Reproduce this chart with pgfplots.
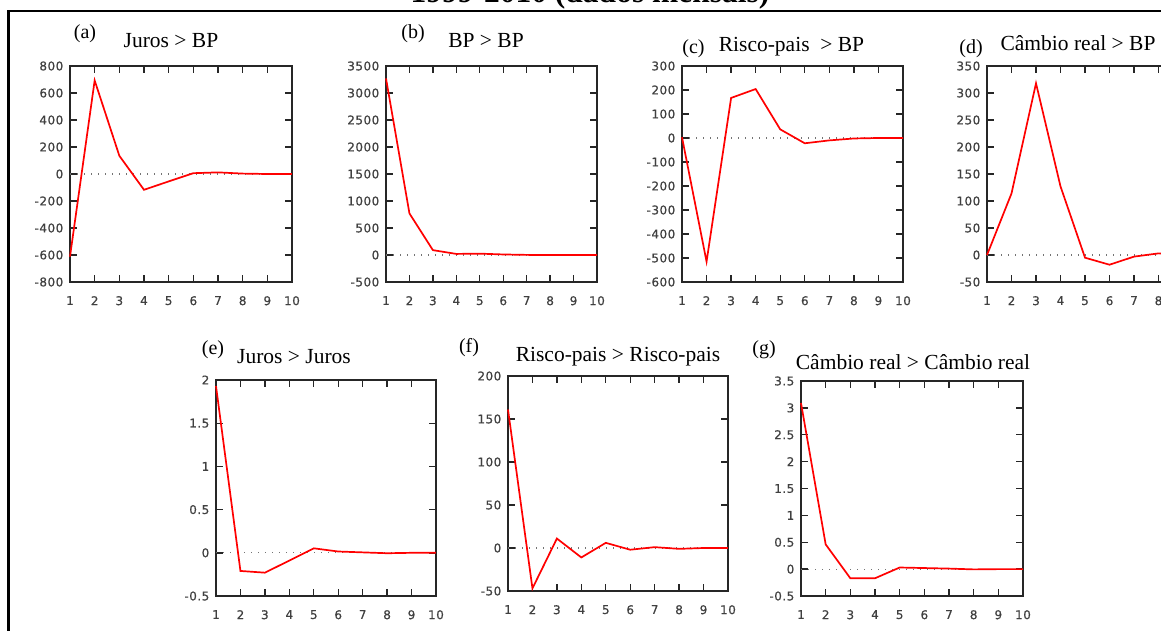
\documentclass[border=0pt]{standalone}
\usepackage{fontspec}
\setmainfont{Liberation Serif}
\newfontfamily\tickfont{DejaVu Sans}[LetterSpace=4, FakeBold=0.6]
\usepackage{pgfplots}
\pgfplotsset{compat=1.18}

\pgfplotsset{
  irf/.style={
    scale only axis,
    anchor=north west,
    xmin=1, xmax=10,
    xtick={1,...,10},
    tick align=inside,
    major tick length=7pt,
    axis line style={line width=1.6pt, black!85},
    every tick/.style={line width=1.4pt, black!85},
    tick label style={font=\tickfont\fontsize{12}{12}\selectfont, text=black!75},
    yticklabel style={anchor=east, inner sep=0pt, xshift=-6.5pt},
    xticklabel style={anchor=north, inner sep=0pt, yshift=-14pt},
    /pgf/number format/assume math mode=true,
    /pgf/number format/1000 sep={},
    scaled ticks=false,
    clip=false,
  },
  zero/.style={black!55, line width=1.2pt, dash pattern=on 1.3pt off 5.7pt},
  irfline/.style={red, line width=1.7pt},
}

\newcommand{\ttl}{\fontsize{21.5}{21.5}\selectfont}
\newcommand{\lbl}{\fontsize{20}{20}\selectfont}

\begin{document}
\begin{tikzpicture}[x=1pt,y=1pt]
\useasboundingbox (0,0) rectangle (1161,-631);
\clip (0,0) rectangle (1161,-631);

% frame and cut-off caption
\node[anchor=base, font=\bfseries\fontsize{31.5}{31.5}\selectfont] at (590,-3) {1999-2010 (dados mensais)};
\draw[line width=2.5pt] (8.5,-640) -- (8.5,-11) -- (1170,-11);

% (a) Juros > BP
\begin{axis}[irf, at={(70pt,-66pt)}, width=222pt, height=216pt,
  ymin=-800, ymax=800, ytick={-800,-600,...,800}]
\addplot[zero] coordinates {(1,0) (10,0)};
\addplot[irfline] coordinates {(1,-612) (2,693) (3,135) (4,-117) (5,-55) (6,6) (7,12) (8,3) (9,0) (10,0)};
\end{axis}
\node[anchor=base, font=\lbl] at (85,-39) {(a)};
\node[anchor=base, font=\ttl] at (171,-47.5) {Juros > BP};

% (b) BP > BP
\begin{axis}[irf, at={(386pt,-66pt)}, width=211pt, height=216pt,
  ymin=-500, ymax=3500, ytick={-500,0,...,3500}]
\addplot[zero] coordinates {(1,0) (10,0)};
\addplot[irfline] coordinates {(1,3270) (2,770) (3,90) (4,20) (5,25) (6,10) (7,2) (8,0) (9,0) (10,0)};
\end{axis}
\node[anchor=base, font=\lbl] at (413,-39) {(b)};
\node[anchor=base, font=\ttl] at (486,-47.5) {BP > BP};

% (c) Risco-pais > BP
\begin{axis}[irf, at={(682pt,-66pt)}, width=221pt, height=216pt,
  ymin=-600, ymax=300, ytick={-600,-500,...,300}]
\addplot[zero] coordinates {(1,0) (10,0)};
\addplot[irfline] coordinates {(1,3) (2,-515) (3,167) (4,204) (5,36) (6,-22) (7,-10) (8,-2) (9,0) (10,0)};
\end{axis}
\node[anchor=base, font=\lbl] at (693.5,-54) {(c)};
\node[anchor=base, font=\ttl] at (791.5,-52) {Risco-pais\ \ > BP};

% (d) Cambio real > BP
\begin{axis}[irf, at={(987pt,-66pt)}, width=220.5pt, height=216pt,
  ymin=-50, ymax=350, ytick={-50,0,...,350}]
\addplot[zero] coordinates {(1,0) (10,0)};
\addplot[irfline] coordinates {(1,0) (2,114) (3,318) (4,127) (5,-5) (6,-18) (7,-3) (8,3) (9,2) (10,0)};
\end{axis}
\node[anchor=base, font=\lbl] at (971,-53.5) {(d)};
\node[anchor=base, font=\ttl] at (1078,-51) {Câmbio real > BP};

% (e) Juros > Juros
\begin{axis}[irf, at={(216pt,-380pt)}, width=220pt, height=216pt,
  ymin=-0.5, ymax=2, ytick={-0.5,0,...,2}]
\addplot[zero] coordinates {(1,0) (10,0)};
\addplot[irfline] coordinates {(1,1.93) (2,-0.21) (3,-0.23) (4,-0.09) (5,0.052) (6,0.015) (7,0.005) (8,-0.005) (9,0) (10,0)};
\end{axis}
\node[anchor=base, font=\lbl] at (213,-354) {(e)};
\node[anchor=base, font=\ttl] at (294,-363) {Juros > Juros};

% (f) Risco-pais > Risco-pais
\begin{axis}[irf, at={(508pt,-376pt)}, width=220pt, height=215pt,
  ymin=-50, ymax=200, ytick={-50,0,...,200}]
\addplot[zero] coordinates {(1,0) (10,0)};
\addplot[irfline] coordinates {(1,161) (2,-47) (3,11) (4,-11) (5,6) (6,-2) (7,1) (8,-1) (9,0) (10,0)};
\end{axis}
\node[anchor=base, font=\lbl] at (469,-352) {(f)};
\node[anchor=base, font=\ttl] at (618,-361.5) {Risco-pais > Risco-pais};

% (g) Cambio real > Cambio real
\begin{axis}[irf, at={(801pt,-381pt)}, width=222pt, height=215pt,
  ymin=-0.5, ymax=3.5, ytick={-0.5,0,...,3.5}]
\addplot[zero] coordinates {(1,0) (10,0)};
\addplot[irfline] coordinates {(1,3.09) (2,0.46) (3,-0.17) (4,-0.17) (5,0.03) (6,0.02) (7,0.01) (8,-0.005) (9,0) (10,0)};
\end{axis}
\node[anchor=base, font=\lbl] at (764,-354) {(g)};
\node[anchor=base, font=\ttl] at (913,-369) {Câmbio real > Câmbio real};

\end{tikzpicture}
\end{document}
